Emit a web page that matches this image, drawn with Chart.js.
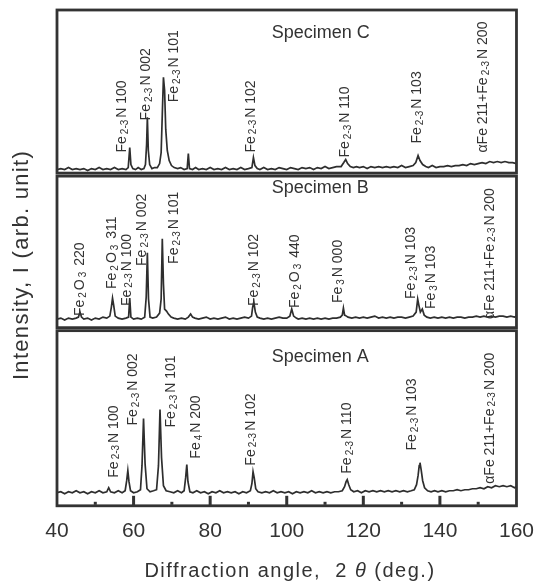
<!DOCTYPE html>
<html>
<head>
<meta charset="utf-8">
<script src="https://cdn.jsdelivr.net/npm/chart.js@4.4.1/dist/chart.umd.min.js"></script>
<style>
  html, body { margin: 0; padding: 0; background: #fff; }
</style>
</head>
<body>
<canvas id="xrdChart" width="539" height="584"></canvas>
<script>
// XRD patterns, [2theta, intensity] pairs (arb. unit)
const specimenA = [[40,13],[41,14],[42,12],[43,14],[44,13],[45,15],[46,13],[47,14],[48,12],[49,14],[50,13],[51,15],[52,13],[53,14],[53.5,18],[54,14],[55,13],[56,15],[57,13],[57.8,15],[58.2,25],[58.5,35],[58.8,24],[59.2,15],[60,13],[61,14],[61.8,16],[62.2,40],[62.6,87],[63.0,42],[63.5,17],[64.3,14],[65.2,15],[66.0,16],[66.5,40],[66.9,96],[67.3,48],[67.8,20],[68.5,15],[69.5,14],[70.5,13],[71.5,15],[72.5,13],[73.2,15],[73.6,28],[73.9,41],[74.2,24],[74.7,14],[75.5,13],[76.5,15],[77.5,13],[78.5,14],[79.5,12],[80.5,14],[81.5,13],[82.5,15],[83.5,13],[84.5,14],[85.5,13],[86.5,14],[87.5,12],[88.5,14],[89.5,13],[90.5,15],[90.9,22],[91.2,34],[91.5,28],[91.9,17],[92.5,14],[93.5,13],[94.5,14],[95.5,13],[96.5,15],[97.5,13],[98.5,14],[99.5,13],[100.5,14],[101.5,12],[102.5,14],[103.5,13],[104.5,14],[105.5,13],[106.5,15],[107.5,13],[108.5,14],[109.5,13],[110.5,14],[111.5,13],[112.5,14],[113.5,14],[114.5,15],[115.1,19],[115.5,24],[115.8,26],[116.2,21],[116.7,16],[117.5,14],[118.5,15],[119.5,13],[120.5,15],[121.5,14],[122.5,15],[123.5,14],[124.5,15],[125.5,14],[126.5,15],[127.5,14],[128.5,15],[129.5,14],[130.5,15],[131.5,14],[132.5,15],[133.3,16],[133.9,21],[134.3,30],[134.6,40],[134.8,43],[135.1,36],[135.5,25],[136.0,18],[136.8,15],[137.7,14],[138.6,15],[139.5,14],[140.5,15],[141.5,14],[142.5,15],[143.5,15],[144.5,16],[145.5,15],[146.5,16],[147.5,16],[148.5,17],[149.5,17],[150.5,18],[151.5,17],[152.5,19],[153.5,18],[154.5,20],[155.5,19],[156.5,20],[157.5,19],[158.5,20],[159.5,18],[160,19]];

const specimenB = [[40,10],[41,11],[42,9],[43,11],[44,10],[45,11],[45.6,12],[46.0,17],[46.4,12],[47,10],[48,11],[49,9],[50,11],[51,10],[52,12],[53,11],[53.8,13],[54.2,22],[54.5,31],[54.8,24],[55.2,13],[56,11],[57,10],[58,11],[58.7,12],[59.0,31],[59.3,12],[60,10],[61,11],[62,10],[62.9,12],[63.3,32],[63.6,76],[63.9,30],[64.3,12],[65,11],[66,12],[66.8,16],[67.2,30],[67.5,90],[67.8,45],[68.1,20],[68.6,18],[69.1,15],[69.8,12],[70.5,11],[71.5,10],[72.5,11],[73.5,10],[74.3,12],[74.9,15],[75.4,12],[76,11],[77,10],[78,11],[79,12],[80,10],[81,11],[82,10],[83,11],[84,12],[85,10],[86,11],[87,10],[88,11],[89,12],[90,11],[90.8,13],[91.1,22],[91.4,27],[91.8,17],[92.3,12],[93,11],[94,10],[95,11],[96,10],[97,11],[98,12],[99,11],[100,11],[100.8,13],[101.3,20],[101.8,13],[102.5,11],[103,10],[104,11],[105,10],[106,11],[107,10],[108,11],[109,10],[110,11],[111,10],[112,11],[113,11],[114,12],[114.5,14],[114.8,21],[115.1,14],[115.6,13],[116,12],[117,11],[118,12],[119,11],[120,12],[121,11],[122,12],[123,13],[124,11],[125,12],[126,11],[127,12],[128,11],[129,12],[130,12],[131,11],[132,12],[133,13],[133.8,17],[134.2,30],[134.5,24],[134.9,17],[135.4,20],[135.9,14],[136.6,12],[137.5,11],[138.5,12],[139.5,11],[140.5,12],[141.5,11],[142.5,12],[143.5,11],[144.5,12],[145.5,12],[146.5,11],[147.5,12],[148.5,12],[149.5,13],[150.5,12],[151.5,13],[152.5,12],[153.5,13],[154.5,12],[155.5,13],[156.5,13],[157.5,12],[158.5,13],[159.5,12],[160,13]];

const specimenC = [[40,5],[41,6],[42,5],[43,7],[44,5],[45,6],[46,5],[47,6],[48,4],[49,6],[50,5],[51,7],[52,5],[53,6],[54,5],[55,7],[56,5],[57,6],[58,5],[58.6,7],[59.0,27],[59.3,10],[59.8,6],[60.5,5],[61.2,7],[62,5],[62.7,6],[63.1,10],[63.4,30],[63.6,57],[63.85,24],[64.2,10],[64.8,6],[65.5,7],[66.2,7],[66.8,11],[67.2,22],[67.5,60],[67.8,97],[68.1,84],[68.4,45],[68.8,24],[69.3,14],[69.9,9],[70.6,7],[71.5,6],[72.3,7],[73.2,5],[74.0,6],[74.3,21],[74.6,6],[75.4,5],[76.2,7],[77,5],[78,6],[79,5],[80,7],[81,5],[82,6],[83,5],[84,7],[85,5],[86,6],[87,5],[88,7],[89,5],[90,6],[90.9,7],[91.3,17],[91.7,9],[92.3,6],[93,5],[94,7],[95,5],[96,6],[97,5],[98,7],[99,6],[100,5],[101,7],[102,6],[103,5],[104,7],[105,6],[106,7],[107,5],[108,7],[109,6],[110,8],[111,6],[112,7],[113,8],[114.2,8],[114.9,12],[115.4,15],[115.9,11],[116.6,8],[117.4,7],[118.2,8],[119,7],[120,8],[121,6],[122,8],[123,7],[124,8],[125,7],[126,8],[127,7],[128,8],[129,7],[130,9],[131,7],[132,8],[133,9],[133.7,12],[134.3,19],[134.8,14],[135.5,10],[136.3,8],[137,7],[138,9],[139,7],[140,8],[141,8],[142,9],[143,8],[144,9],[145,9],[146,10],[147,9],[148,11],[149,10],[150,11],[151,12],[152,11],[153,13],[154,12],[155,13],[156,12],[157,13],[158,12],[159,12],[160,11]];

// peak labels: [2theta, intensity where the text starts, text]; "|" toggles subscript
const peaksA = [
  [54.8, 28, 'Fe|2-3|N 100'],
  [60.0, 80, 'Fe|2-3|N 002'],
  [69.9, 78, 'Fe|2-3|N 101'],
  [76.4, 47, 'Fe|4|N 200'],
  [90.6, 40, 'Fe|2-3|N 102'],
  [115.8, 32, 'Fe|2-3|N 110'],
  [132.7, 55, 'Fe|2-3|N 103'],
  [153.0, 22, 'αFe 211+Fe|2-3|N 200']
];
const peaksB = [
  [46.0, 13, 'Fe|2|O|3| 220'],
  [54.5, 40, 'Fe|2|O|3| 311'],
  [58.2, 23, 'Fe|2-3|N 100'],
  [62.3, 63, 'Fe|2-3|N 002'],
  [70.6, 65, 'Fe|2-3|N 101'],
  [91.4, 23, 'Fe|2-3|N 102'],
  [102.1, 21, 'Fe|2|O|3| 440'],
  [113.5, 26, 'Fe|3|N 000'],
  [132.5, 30, 'Fe|2-3|N 103'],
  [137.7, 20, 'Fe|3|N 103'],
  [153.0, 10, 'αFe 211+Fe|2-3|N 200']
];
const peaksC = [
  [57.1, 22, 'Fe|2-3|N 100'],
  [63.4, 54, 'Fe|2-3|N 002'],
  [70.6, 72, 'Fe|2-3|N 101'],
  [90.6, 22, 'Fe|2-3|N 102'],
  [115.3, 17, 'Fe|2-3|N 110'],
  [134.0, 31, 'Fe|2-3|N 103'],
  [151.4, 22, 'αFe 211+Fe|2-3|N 200']
];

const panelNames = ['Specimen A', 'Specimen B', 'Specimen C'];
const xTicks = [40, 60, 80, 100, 120, 140, 160];

const ink = '#333';
const fontFamily = '"Liberation Sans", Arial, sans-serif';

function toPoints(pairs) {
  return pairs.map(p => ({ x: p[0], y: p[1] }));
}

function drawPeakLabel(ctx, x, y, text) {
  const parts = text.split('|');
  ctx.save();
  ctx.translate(x, y);
  ctx.rotate(-Math.PI / 2);
  ctx.textAlign = 'left';
  ctx.textBaseline = 'middle';
  let pos = 0;
  parts.forEach((part, i) => {
    const sub = i % 2 === 1;
    ctx.font = (sub ? '10px ' : '14px ') + fontFamily;
    ctx.fillText(part, pos, sub ? 3 : 0);
    pos += ctx.measureText(part).width + 2;
  });
  ctx.restore();
}

const panelPlugin = {
  id: 'panels',
  afterDatasetsDraw(chart) {
    const ctx = chart.ctx;
    const xs = chart.scales.x;
    const panels = [
      { scale: chart.scales.yA, peaks: peaksA, name: panelNames[0], nameLevel: 148 },
      { scale: chart.scales.yB, peaks: peaksB, name: panelNames[1], nameLevel: 141 },
      { scale: chart.scales.yC, peaks: peaksC, name: panelNames[2], nameLevel: 141 }
    ];
    const area = chart.chartArea;

    ctx.save();
    ctx.strokeStyle = ink;
    ctx.fillStyle = ink;
    ctx.lineWidth = 2.8;

    panels.forEach(p => {
      const s = p.scale;
      const top = s.top <= area.top + 1 ? s.top + 1 : s.top + 1.5;
      const bottom = s.bottom >= area.bottom - 1 ? s.bottom : s.bottom - 1.5;
      ctx.strokeRect(xs.left, top, xs.right - xs.left, bottom - top);

      p.peaks.forEach(pk => {
        drawPeakLabel(ctx, xs.getPixelForValue(pk[0]), s.getPixelForValue(pk[1]), pk[2]);
      });

      ctx.font = '18px ' + fontFamily;
      ctx.textAlign = 'left';
      ctx.textBaseline = 'middle';
      ctx.fillText(p.name, xs.getPixelForValue(96.1), s.getPixelForValue(p.nameLevel));
    });

    // tick marks along the bottom edge, majors as bars, minors as dots
    const yb = area.bottom;
    xs.ticks.forEach((t, i) => {
      const px = xs.getPixelForValue(t.value);
      if (t.value > xs.min && t.value < xs.max) {
        ctx.fillRect(px - 1.5, yb - 10, 3, 10);
      }
      if (i < xs.ticks.length - 1) {
        const mid = xs.getPixelForValue((t.value + xs.ticks[i + 1].value) / 2);
        ctx.fillRect(mid - 1.5, yb - 4, 3, 3);
      }
    });

    // axis titles
    ctx.save();
    ctx.translate(22, 265);
    ctx.rotate(-Math.PI / 2);
    ctx.font = '22px ' + fontFamily;
    ctx.letterSpacing = '1.3px';
    ctx.textAlign = 'center';
    ctx.textBaseline = 'middle';
    ctx.fillText('Intensity, I (arb. unit)', 0, 0);
    ctx.restore();

    ctx.letterSpacing = '1.5px';
    const segs = [['Diffraction angle,  2 ', ''], ['θ', 'italic '], [' (deg.)', '']];
    let total = 0;
    segs.forEach(sg => { ctx.font = sg[1] + '20px ' + fontFamily; total += ctx.measureText(sg[0]).width; });
    let cx = 290 - total / 2;
    ctx.textAlign = 'left';
    ctx.textBaseline = 'middle';
    segs.forEach(sg => {
      ctx.font = sg[1] + '20px ' + fontFamily;
      ctx.fillText(sg[0], cx, 571);
      cx += ctx.measureText(sg[0]).width;
    });
    ctx.restore();
  }
};

const lineStyle = { borderColor: '#2e2e2e', borderWidth: 1.7, pointRadius: 0, tension: 0, fill: false };

new Chart(document.getElementById('xrdChart'), {
  type: 'line',
  data: {
    datasets: [
      Object.assign({ label: panelNames[0], data: toPoints(specimenA), yAxisID: 'yA' }, lineStyle),
      Object.assign({ label: panelNames[1], data: toPoints(specimenB), yAxisID: 'yB' }, lineStyle),
      Object.assign({ label: panelNames[2], data: toPoints(specimenC), yAxisID: 'yC' }, lineStyle)
    ]
  },
  options: {
    responsive: false,
    animation: false,
    layout: { padding: { left: 57, right: 20, top: 9, bottom: 35 } },
    plugins: { legend: { display: false }, tooltip: { enabled: false } },
    scales: {
      x: {
        type: 'linear',
        min: 40,
        max: 160,
        afterBuildTicks: axis => { axis.ticks = xTicks.map(v => ({ value: v })); },
        grid: { display: false },
        border: { display: false },
        ticks: { color: ink, font: { size: 21, family: fontFamily }, padding: 5, maxRotation: 0 }
      },
      yA: { position: 'left', stack: 'panels', stackWeight: 176, min: 0, max: 176, display: false },
      yB: { position: 'left', stack: 'panels', stackWeight: 154, min: 0, max: 154, display: false },
      yC: { position: 'left', stack: 'panels', stackWeight: 165, min: 0, max: 165, display: false }
    }
  },
  plugins: [panelPlugin]
});
</script>
</body>
</html>
